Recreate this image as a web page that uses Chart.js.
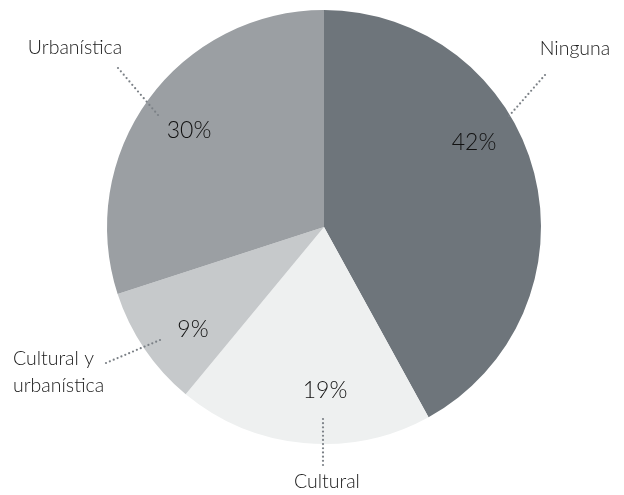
<!DOCTYPE html>
<html lang="es">
<head>
<meta charset="UTF-8">
<title>Pie</title>
<script src="https://cdn.jsdelivr.net/npm/chart.js"></script>
<style>
  html, body { margin: 0; padding: 0; background: #fff; }
  #wrap { width: 624px; height: 495px; }
</style>
</head>
<body>
<div id="wrap"><canvas id="pie"></canvas></div>
<script>
const categories = ['Ninguna', 'Cultural', 'Cultural y urbanística', 'Urbanística'];
const values = [42, 19, 9, 30];
const colors = ['#6e757b', '#eef0f0', '#c6c9cb', '#9b9fa3'];

// label layout, offsets from pie centre (px)
const pctPos = [[150, -84], [1, 164], [-131, 103], [-135, -96]];
const leaderFrom = [[185, -111], [-1, 192], [-164, 113], [-166, -112]];
const leaderTo = [[221, -152], [-1, 238], [-218, 136], [-206, -159]];
const namePos = [[251, -178, 'center'], [3, 255, 'center'], [-311, 132, 'left'], [-249, -179, 'center']];
const nameLines = [['Ninguna'], ['Cultural'], ['Cultural y', 'urbanística'], ['Urbanística']];

const FONT = '"Lato", "DejaVu Sans", sans-serif';

const labelsPlugin = {
  id: 'pieLabels',
  afterDatasetsDraw(chart) {
    const ctx = chart.ctx;
    const arc = chart.getDatasetMeta(0).data[0];
    const cx = arc.x, cy = arc.y;
    ctx.save();
    // dotted leaders
    ctx.fillStyle = '#7b8086';
    leaderFrom.forEach((f, i) => {
      const t = leaderTo[i];
      const x0 = cx + f[0], y0 = cy + f[1], x1 = cx + t[0], y1 = cy + t[1];
      const len = Math.hypot(x1 - x0, y1 - y0);
      const n = Math.round(len / 4.3);
      for (let k = 0; k <= n; k++) {
        ctx.beginPath();
        ctx.arc(x0 + (x1 - x0) * k / n, y0 + (y1 - y0) * k / n, 1.1, 0, Math.PI * 2);
        ctx.fill();
      }
    });
    // percentages
    ctx.fillStyle = '#111';
    ctx.font = '300 23px ' + FONT;
    ctx.textAlign = 'center';
    ctx.textBaseline = 'middle';
    values.forEach((v, i) => {
      ctx.fillText(v + '%', cx + pctPos[i][0], cy + pctPos[i][1]);
    });
    // category names
    ctx.fillStyle = '#1a1a1a';
    ctx.font = '300 19.5px ' + FONT;
    nameLines.forEach((lines, i) => {
      ctx.textAlign = namePos[i][2];
      lines.forEach((s, j) => {
        ctx.fillText(s, cx + namePos[i][0], cy + namePos[i][1] + j * 27);
      });
    });
    ctx.restore();
  }
};

new Chart(document.getElementById('pie'), {
  type: 'pie',
  data: {
    labels: categories,
    datasets: [{
      data: values,
      backgroundColor: colors,
      borderWidth: 0
    }]
  },
  options: {
    responsive: true,
    maintainAspectRatio: false,
    animation: false,
    layout: { padding: { top: 10, bottom: 51, left: 107, right: 83 } },
    plugins: { legend: { display: false }, tooltip: { enabled: false } }
  },
  plugins: [labelsPlugin]
});
</script>
</body>
</html>
